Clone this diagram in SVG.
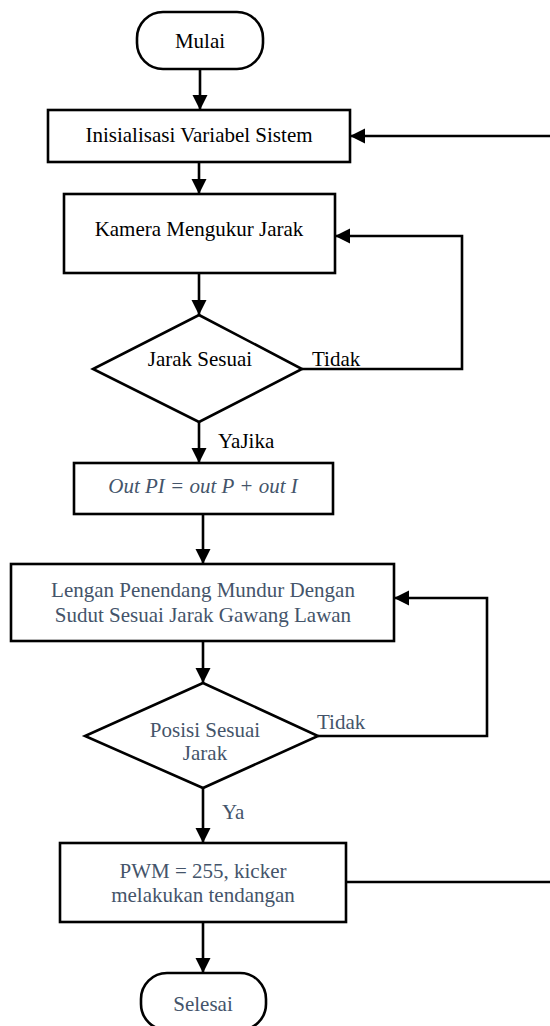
<svg xmlns="http://www.w3.org/2000/svg" width="550" height="1026" viewBox="0 0 550 1026">
  <style>
    .shape { fill: #ffffff; stroke: #000000; stroke-width: 2.6; }
    .wire { fill: none; stroke: #000000; stroke-width: 2.6; }
    text { font-family: "Liberation Serif", "Times New Roman", serif; font-size: 21px; }
    .dark { fill: #000000; }
    .slate { fill: #44546a; }
    .mid { text-anchor: middle; }
  </style>
  <defs>
    <marker id="arrow" markerUnits="userSpaceOnUse" markerWidth="16" markerHeight="16" refX="15" refY="7.5" orient="auto">
      <path d="M0,0 L15,7.5 L0,15 Z" fill="#000000"/>
    </marker>
  </defs>

  <rect width="550" height="1026" fill="#ffffff"/>

  <!-- connectors -->
  <g id="connectors">
    <path class="wire" d="M200,69 V110" marker-end="url(#arrow)"/>
    <path class="wire" d="M552,136 H350" marker-end="url(#arrow)"/>
    <path class="wire" d="M199,162 V194" marker-end="url(#arrow)"/>
    <path class="wire" d="M199,273 V315" marker-end="url(#arrow)"/>
    <path class="wire" d="M302,369 H462 V236 H335" marker-end="url(#arrow)"/>
    <path class="wire" d="M199,422 V463" marker-end="url(#arrow)"/>
    <path class="wire" d="M203,514 V564" marker-end="url(#arrow)"/>
    <path class="wire" d="M203,641 V683" marker-end="url(#arrow)"/>
    <path class="wire" d="M318,736 H487 V598 H394" marker-end="url(#arrow)"/>
    <path class="wire" d="M203,788 V843" marker-end="url(#arrow)"/>
    <path class="wire" d="M346,882 H552"/>
    <path class="wire" d="M203,922 V973" marker-end="url(#arrow)"/>
    <text class="dark" x="312" y="366">Tidak</text>
    <text class="dark" x="218" y="448">YaJika</text>
    <text class="slate" x="317" y="729">Tidak</text>
    <text class="slate" x="222" y="819">Ya</text>
  </g>

  <!-- start -->
  <g id="mulai">
    <rect class="shape" x="137" y="12" width="126" height="57" rx="26" ry="26"/>
    <text class="dark mid" x="200" y="48">Mulai</text>
  </g>

  <g id="inisialisasi">
    <rect class="shape" x="48" y="110" width="302" height="52"/>
    <text class="dark mid" x="199" y="142">Inisialisasi Variabel Sistem</text>
  </g>

  <g id="kamera">
    <rect class="shape" x="64" y="194" width="271" height="79"/>
    <text class="dark mid" x="199" y="236">Kamera Mengukur Jarak</text>
  </g>

  <g id="cek-jarak">
    <polygon class="shape" points="199,315 302,369 199,422 93,369"/>
    <text class="dark mid" x="200" y="366">Jarak Sesuai</text>
  </g>

  <g id="out-pi">
    <rect class="shape" x="74" y="463" width="259" height="51"/>
    <text class="slate mid" x="203" y="493" font-style="italic">Out PI = out P + out I</text>
  </g>

  <g id="lengan">
    <rect class="shape" x="11" y="564" width="383" height="77"/>
    <text class="slate mid" x="203" y="597">Lengan Penendang Mundur Dengan</text>
    <text class="slate mid" x="203" y="622">Sudut Sesuai Jarak Gawang Lawan</text>
  </g>

  <g id="cek-posisi">
    <polygon class="shape" points="203,683 318,736 203,788 85,736"/>
    <text class="slate mid" x="205" y="737">Posisi Sesuai</text>
    <text class="slate mid" x="205" y="760">Jarak</text>
  </g>

  <g id="tendang">
    <rect class="shape" x="60" y="843" width="286" height="79"/>
    <text class="slate mid" x="203" y="878">PWM = 255, kicker</text>
    <text class="slate mid" x="203" y="902">melakukan tendangan</text>
  </g>

  <!-- end -->
  <g id="selesai">
    <rect class="shape" x="141" y="973" width="125" height="57" rx="26" ry="26"/>
    <text class="slate mid" x="203" y="1011">Selesai</text>
  </g>
</svg>
